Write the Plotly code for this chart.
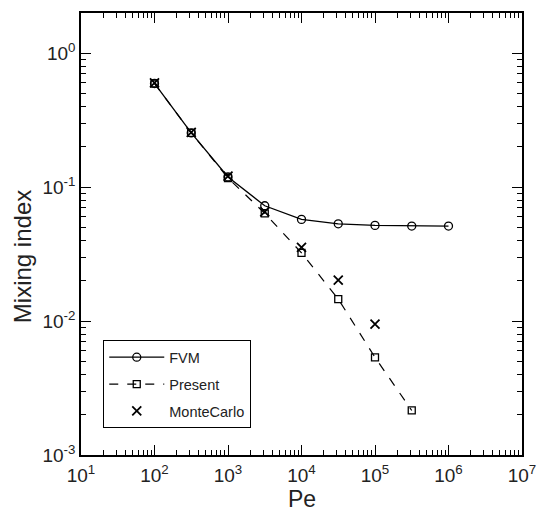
import plotly.graph_objects as go

pe = [1e2, 10**2.5, 1e3, 10**3.5, 1e4, 10**4.5, 1e5, 10**5.5, 1e6]
fvm = [0.594, 0.254, 0.119, 0.0726, 0.0574, 0.0532, 0.0518, 0.0512, 0.0512]
pe_present = [1e2, 10**2.5, 1e3, 10**3.5, 1e4, 10**4.5, 1e5, 10**5.5]
present = [0.594, 0.254, 0.117, 0.0637, 0.0323, 0.0146, 0.00536, 0.00215]
pe_mc = [1e2, 10**2.5, 1e3, 10**3.5, 1e4, 10**4.5, 1e5]
montecarlo = [0.600, 0.256, 0.121, 0.0654, 0.0355, 0.0202, 0.0095]

x_tickvals = [1e1, 1e2, 1e3, 1e4, 1e5, 1e6, 1e7]
x_ticktext = ["10<sup>1</sup>", "10<sup>2</sup>", "10<sup>3</sup>", "10<sup>4</sup>",
              "10<sup>5</sup>", "10<sup>6</sup>", "10<sup>7</sup>"]
y_tickvals = [1e-3, 1e-2, 1e-1, 1e0]
y_ticktext = ["10<sup>-3</sup>", "10<sup>-2</sup>", "10<sup>-1</sup>", "10<sup>0</sup>"]
x_title = "Pe"
y_title = "Mixing index"

x_minor = [m * 10**e for e in range(1, 7) for m in range(2, 10)]
y_minor = [m * 10**e for e in range(-3, 1) for m in range(2, 10) if m * 10**e < 2.0]

FONT = "Arial, 'Liberation Sans', sans-serif"

fig = go.Figure()
fig.add_trace(go.Scatter(
    x=pe, y=fvm, name="FVM", mode="lines+markers", legendgroup="a",
    line=dict(color="black", width=1.3),
    marker=dict(symbol="circle-open", size=8, color="black", line=dict(width=1.3)),
))
fig.add_trace(go.Scatter(
    x=pe_present, y=present, name="Present", mode="lines+markers", legendgroup="b",
    line=dict(color="black", width=1.2, dash="dash"),
    marker=dict(symbol="square-open", size=7, color="black", line=dict(width=1.3)),
))
fig.add_trace(go.Scatter(
    x=pe_mc, y=montecarlo, name="MonteCarlo", mode="markers", legendgroup="c",
    marker=dict(symbol="x-thin-open", size=9, color="black", line=dict(width=1.8, color="black")),
))

axis_common = dict(
    type="log", showline=True, linecolor="black", linewidth=1.5, mirror="allticks",
    ticks="inside", ticklen=10, tickwidth=1.2, tickcolor="black", showgrid=False,
    zeroline=False, automargin=False, tickfont=dict(size=19, color="#222", family=FONT),
)

fig.update_xaxes(
    **axis_common, range=[1, 7], tickvals=x_tickvals, ticktext=x_ticktext,
    ticklabelstandoff=2,
    minor=dict(tickvals=x_minor, ticks="inside", ticklen=5, tickwidth=1.1, tickcolor="black", showgrid=False),
)
fig.update_yaxes(
    **axis_common, range=[-3, 0.3], tickvals=y_tickvals, ticktext=y_ticktext,
    minor=dict(tickvals=y_minor, ticks="inside", ticklen=5, tickwidth=1.1, tickcolor="black", showgrid=False),
)

fig.add_annotation(
    text=x_title, xref="paper", yref="paper", x=0.5, y=-0.0995,
    xanchor="center", yanchor="middle", showarrow=False, borderpad=0,
    font=dict(size=23, color="#222", family=FONT),
)
fig.add_annotation(
    text=y_title, xref="paper", yref="paper", x=-0.1327, y=0.4487, textangle=-90,
    xanchor="center", yanchor="middle", showarrow=False,
    font=dict(size=24, color="#222", family=FONT),
)

fig.update_layout(
    width=538, height=513,
    margin=dict(l=81, r=16, t=13, b=58),
    paper_bgcolor="white", plot_bgcolor="white",
    font=dict(family=FONT, color="#222"),
    legend=dict(
        x=0.05, y=0.26, xanchor="left", yanchor="top",
        bgcolor="white", bordercolor="black", borderwidth=1.2,
        font=dict(size=14.5, color="#222", family=FONT), itemwidth=55,
        traceorder="grouped", tracegroupgap=5,
    ),
    showlegend=True,
)

fig.write_html("out.html")
